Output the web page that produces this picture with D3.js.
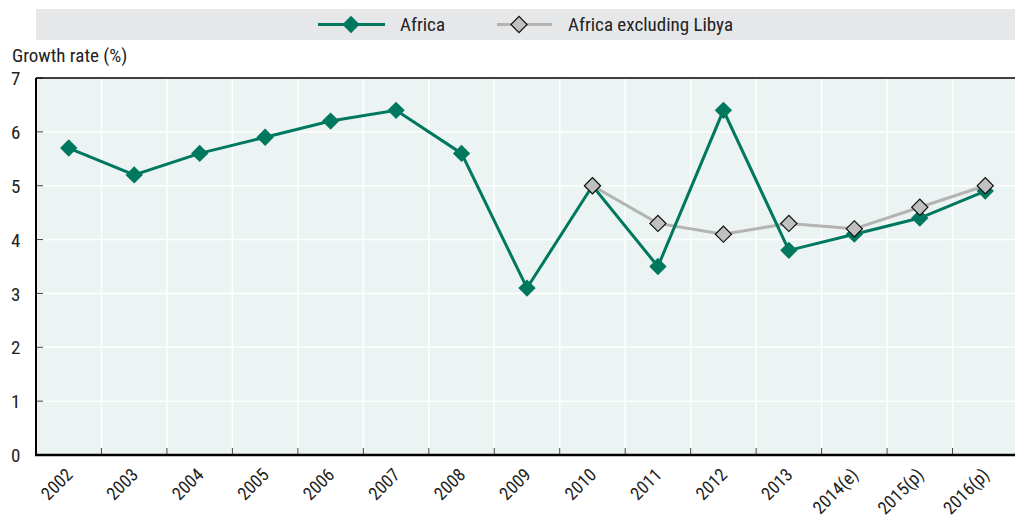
<!DOCTYPE html>
<html>
<head>
<meta charset="utf-8">
<script src="https://cdn.jsdelivr.net/npm/d3@7"></script>
<style>
  body { margin: 0; background: #fff; }
  text { font-family: "Liberation Sans Narrow", "Arial Narrow", "Roboto Condensed", sans-serif; fill: #222; }
</style>
</head>
<body>
<script>
// categories and series
var years = ['2002', '2003', '2004', '2005', '2006', '2007', '2008', '2009', '2010', '2011', '2012', '2013', '2014(e)', '2015(p)', '2016(p)'];
var africa = [5.7, 5.2, 5.6, 5.9, 6.2, 6.4, 5.6, 3.1, 5.0, 3.5, 6.4, 3.8, 4.1, 4.4, 4.9];
var exLibya = [null, null, null, null, null, null, null, null, 5.0, 4.3, 4.1, 4.3, 4.2, 4.6, 5.0];
var yTicks = [0, 1, 2, 3, 4, 5, 6, 7];

var W = 1015, H = 521;
var pLeft = 36, pRight = 1018, pTop = 78, pBottom = 455;
var fs = 19;

var svg = d3.select('body').append('svg').attr('width', W).attr('height', H);

var x = d3.scaleBand().domain(years).range([pLeft, pRight]);
var y = d3.scaleLinear().domain([0, 7]).range([pBottom, pTop]);
var cx = function(k) { return x(k) + x.bandwidth() / 2; };

// plot background
svg.append('rect').attr('x', pLeft).attr('y', pTop).attr('width', pRight - pLeft).attr('height', pBottom - pTop).attr('fill', '#ebf4f3');

// grid
svg.append('g').selectAll('line').data(yTicks.slice(1, -1))
  .enter().append('line')
  .attr('x1', pLeft).attr('x2', pRight)
  .attr('y1', function(d) { return y(d); }).attr('y2', function(d) { return y(d); })
  .attr('stroke', '#fff').attr('stroke-width', 1.5);
svg.append('g').selectAll('line').data(years.slice(1))
  .enter().append('line')
  .attr('x1', function(d) { return x(d); }).attr('x2', function(d) { return x(d); })
  .attr('y1', pTop).attr('y2', pBottom)
  .attr('stroke', '#fff').attr('stroke-width', 1.5);

// y axis labels
var yAxis = svg.append('g').attr('transform', 'translate(' + pLeft + ',0)')
  .call(d3.axisLeft(y).tickValues(yTicks).tickFormat(d3.format('d')).tickSize(0));
yAxis.select('.domain').remove();
yAxis.selectAll('text').attr('font-size', fs).attr('fill', '#222').attr('font-family', null)
  .attr('text-anchor', 'start').attr('x', -25).attr('dy', '0.35em');
svg.append('g').selectAll('line').data(yTicks.slice(1))
  .enter().append('line')
  .attr('x1', pLeft).attr('x2', pLeft + 7)
  .attr('y1', function(d) { return y(d); }).attr('y2', function(d) { return y(d); })
  .attr('stroke', '#444').attr('stroke-width', 1);

// x ticks at band boundaries
svg.append('g').selectAll('line').data(years.slice(1))
  .enter().append('line')
  .attr('x1', function(d) { return x(d); }).attr('x2', function(d) { return x(d); })
  .attr('y1', pBottom).attr('y2', pBottom - 7)
  .attr('stroke', '#444').attr('stroke-width', 1);

// frame
svg.append('line').attr('x1', pLeft).attr('x2', pRight).attr('y1', pTop).attr('y2', pTop).attr('stroke', '#000').attr('stroke-width', 1.5);
svg.append('line').attr('x1', pLeft).attr('x2', pLeft).attr('y1', pTop).attr('y2', pBottom).attr('stroke', '#000').attr('stroke-width', 2);
svg.append('line').attr('x1', pLeft - 1).attr('x2', pRight).attr('y1', pBottom).attr('y2', pBottom).attr('stroke', '#000').attr('stroke-width', 2.5);

svg.append('g').selectAll('text').data(years)
  .enter().append('text')
  .attr('font-size', 18)
  .attr('text-anchor', 'end')
  .attr('transform', function(d) { return 'translate(' + (cx(d) + 5) + ',' + (pBottom + 21) + ') rotate(-45)'; })
  .text(function(d) { return d; });

svg.append('text').attr('x', 12).attr('y', 62).attr('font-size', fs).text('Growth rate (%)');

// lines
var line = d3.line()
  .defined(function(d) { return d.v != null; })
  .x(function(d) { return cx(d.k); })
  .y(function(d) { return y(d.v); });

function pairs(vals) {
  return years.map(function(k, i) { return { k: k, v: vals[i] }; });
}

svg.append('path').datum(pairs(exLibya)).attr('d', line)
  .attr('fill', 'none').attr('stroke', '#b3b3b3').attr('stroke-width', 3);
svg.append('path').datum(pairs(africa)).attr('d', line)
  .attr('fill', 'none').attr('stroke', '#00775f').attr('stroke-width', 3);

svg.append('g').selectAll('path').data(pairs(africa))
  .enter().append('path')
  .attr('d', d3.symbol().type(d3.symbolSquare).size(150))
  .attr('transform', function(d) { return 'translate(' + cx(d.k) + ',' + y(d.v) + ') rotate(45)'; })
  .attr('fill', '#00775f');

svg.append('g').selectAll('path').data(pairs(exLibya).filter(function(d) { return d.v != null; }))
  .enter().append('path')
  .attr('d', d3.symbol().type(d3.symbolSquare).size(130))
  .attr('transform', function(d) { return 'translate(' + cx(d.k) + ',' + y(d.v) + ') rotate(45)'; })
  .attr('fill', '#c0c0c0').attr('stroke', '#111').attr('stroke-width', 1.2);

// legend
var leg = svg.append('g');
leg.append('rect').attr('x', 36).attr('y', 9).attr('width', 979).attr('height', 31).attr('fill', '#e6e7e9');
leg.append('line').attr('x1', 318).attr('x2', 385).attr('y1', 24.5).attr('y2', 24.5).attr('stroke', '#00775f').attr('stroke-width', 3);
leg.append('path').attr('d', d3.symbol().type(d3.symbolSquare).size(150))
  .attr('transform', 'translate(351,24.5) rotate(45)').attr('fill', '#00775f');
leg.append('text').attr('x', 400).attr('y', 31).attr('font-size', fs).text('Africa');
leg.append('line').attr('x1', 497).attr('x2', 552).attr('y1', 24.5).attr('y2', 24.5).attr('stroke', '#b3b3b3').attr('stroke-width', 3);
leg.append('path').attr('d', d3.symbol().type(d3.symbolSquare).size(130))
  .attr('transform', 'translate(519,24.5) rotate(45)').attr('fill', '#c0c0c0').attr('stroke', '#111').attr('stroke-width', 1.2);
leg.append('text').attr('x', 568).attr('y', 31).attr('font-size', fs).text('Africa excluding Libya');
</script>
</body>
</html>
